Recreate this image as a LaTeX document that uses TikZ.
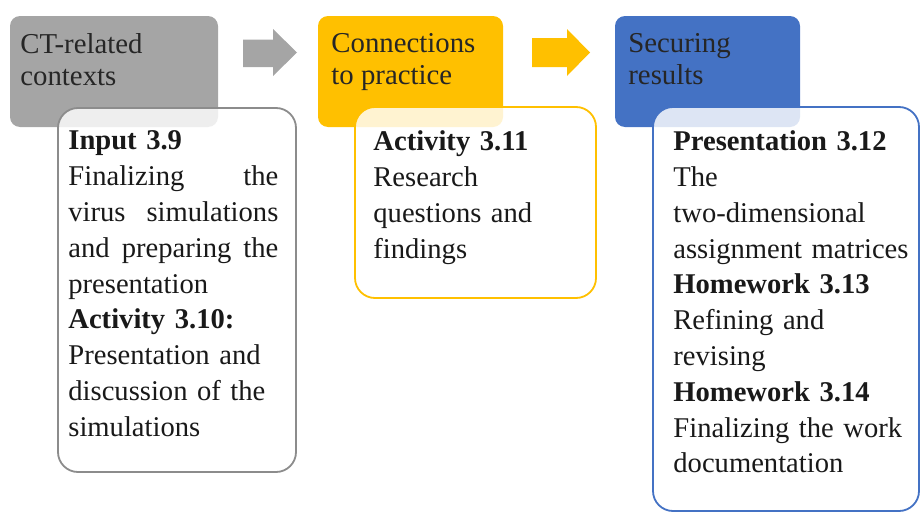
\documentclass[tikz,border=0pt]{standalone}
\usepackage{fontspec}
\setmainfont{Liberation Serif}
\definecolor{ctgray}{HTML}{A5A5A5}
\definecolor{practiceyellow}{HTML}{FFC000}
\definecolor{resultsblue}{HTML}{4472C4}
\definecolor{framegray}{HTML}{8C8C8C}

\begin{document}
\begin{tikzpicture}
  [x=0.5pt,y=-0.5pt,
   header/.style={rounded corners=5pt,inner sep=0pt,minimum height=55.5pt},
   headtext/.style={anchor=north west,inner sep=0pt,align=left,text=black!85,font=\fontsize{14.4}{16}\selectfont},
   box/.style={draw,line width=0.9pt,rounded corners=10pt,fill=white,fill opacity=0.82,text opacity=1,inner sep=0pt},
   boxtext/.style={anchor=north west,inner sep=0pt,align=left,text width=#1,text=black!90,font=\fontsize{14.3}{17.9}\selectfont}]

  \useasboundingbox (0,0) rectangle (921,514);

  % headers
  \node[header,fill=ctgray,minimum width=104pt] (ct) at (114,71.5) {};
  \node[header,fill=practiceyellow,minimum width=92.5pt] (practice) at (410.5,71.5) {};
  \node[header,fill=resultsblue,minimum width=92.5pt] (results) at (707.5,71.5) {};

  \node[headtext] (cttext) at (20,33) {CT-related\\contexts};
  \node[headtext] (practicetext) at (331,33) {Connections\\to practice};
  \node[headtext] (resultstext) at (628,33) {Securing\\results};

  % boxes
  \node[box,draw=framegray,minimum width=119pt,minimum height=182pt] (input) at (177,290) {};
  \node[box,draw=practiceyellow,minimum width=120.5pt,minimum height=95.5pt] (activity) at (475.5,202.5) {};
  \node[box,draw=resultsblue,minimum width=133pt,minimum height=202pt] (homework) at (786,309) {};

  \node[boxtext=105pt] (inputtext) at (68,130.5)
    {\textbf{Input 3.9}\\Finalizing\hfill the\\virus\hfill simulations\\and\hfill preparing\hfill the\\presentation\\
     \textbf{Activity 3.10:}\\Presentation and\\discussion of the\\simulations};
  \node[boxtext=110pt] (activitytext) at (373,130.5)
    {\textbf{Activity 3.11}\\Research\\questions and\\findings};
  \node[boxtext=122pt] (homeworktext) at (673,130.5)
    {\textbf{Presentation 3.12}\\The\\two-dimensional\\assignment matrices\\
     \textbf{Homework 3.13}\\Refining and\\revising\\
     \textbf{Homework 3.14}\\Finalizing the work\\documentation};

  % arrows
  \fill[ctgray] (243,39.5) -- (273,39.5) -- (273,29) -- (297,52.5) -- (273,76) -- (273,67) -- (243,67) -- cycle;
  \fill[practiceyellow] (532,38) -- (567,38) -- (567,29) -- (590,52.5) -- (567,76) -- (567,67) -- (532,67) -- cycle;
\end{tikzpicture}
\end{document}
